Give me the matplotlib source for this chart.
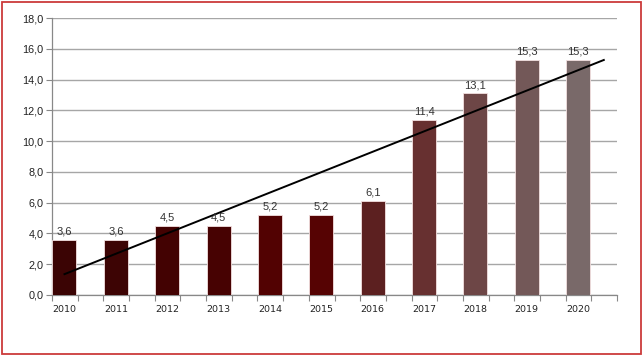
import matplotlib
matplotlib.use("Agg")
import matplotlib.pyplot as plt
import numpy as np
from matplotlib.patches import Rectangle

years = ["2010", "2011", "2012", "2013", "2014", "2015", "2016", "2017", "2018", "2019", "2020"]
values = [3.6, 3.6, 4.5, 4.5, 5.2, 5.2, 6.1, 11.4, 13.1, 15.3, 15.3]
bar_colors = ["#3b0404", "#3d0404", "#430202", "#470202", "#520202", "#560303",
              "#5c2020", "#673030", "#6d4646", "#735858", "#796969"]

W, H = 643, 355
fig = plt.figure(figsize=(W / 100, H / 100), dpi=100)
fig.patch.set_facecolor("white")
fig.patches.append(Rectangle((1.5 / W, 1.5 / H), (W - 3.5) / W, (H - 3.5) / H,
                             transform=fig.transFigure, fill=False,
                             edgecolor="#cc3a3a", linewidth=1.3))

ax = fig.add_axes([52 / W, 1 - 295 / H, (617 - 52) / W, (295 - 18) / H])
x = np.arange(len(years))
ax.bar(x, values, width=0.467, color=bar_colors, edgecolor="#f3e0e0",
       linewidth=0.6, zorder=3)

for xi, v in zip(x, values):
    ax.text(xi, v + 0.22, f"{v:.1f}".replace(".", ","), ha="center", va="bottom",
            fontsize=8, color="#333333", family="Liberation Sans", zorder=5)

# linear trend line
k, b = np.polyfit(x, values, 1)
xt = np.array([0, 10.5])
ax.plot(xt, k * xt + b, color="black", linewidth=1.4, zorder=4)

ax.set_xlim(-0.243, 10.75)
ax.set_ylim(0, 18)
yt = np.arange(0, 18.1, 2)
ax.set_yticks(yt)
ax.set_yticklabels([f"{t:.1f}".replace(".", ",") for t in yt],
                   fontsize=7.8, family="Liberation Sans", color="#222222")
ax.set_xticks(x)
ax.set_xticklabels(years, fontsize=6.8, family="DejaVu Sans", color="#222222")
ax.tick_params(axis="x", length=0, pad=7)
ax.set_xticks(np.arange(-0.243, 10.76, 0.5), minor=True)
ax.tick_params(axis="x", which="minor", length=4, color="#888888", width=0.8)
ax.tick_params(axis="y", length=4, color="#888888", width=0.8, pad=2)

ax.grid(axis="y", color="#a6a6a6", linewidth=1.0, zorder=0)
ax.set_axisbelow(True)
for s in ["top", "right"]:
    ax.spines[s].set_visible(False)
for s in ["left", "bottom"]:
    ax.spines[s].set_color("#888888")
    ax.spines[s].set_linewidth(0.9)

fig.savefig("out.png", dpi=100)
